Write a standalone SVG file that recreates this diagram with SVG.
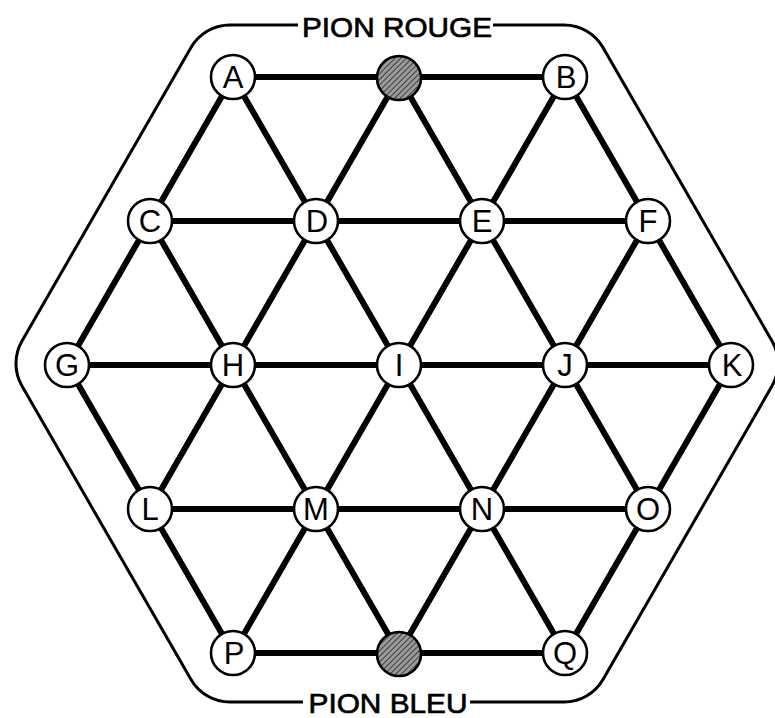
<svg xmlns="http://www.w3.org/2000/svg" width="775" height="718" viewBox="0 0 775 718">
<defs>
<pattern id="hatch" patternUnits="userSpaceOnUse" width="4" height="4" patternTransform="rotate(45)">
<rect width="4" height="4" fill="#9a9a9a"/>
<line x1="0" y1="0" x2="0" y2="4" stroke="#333" stroke-width="1.8"/>
</pattern>
</defs>
<style>
.edge{stroke:#000;stroke-width:6;stroke-linecap:round}
.node circle{fill:#fff;stroke:#000;stroke-width:2.6}
.node text{font-family:"Liberation Sans",Arial,sans-serif;font-size:31px;text-anchor:middle;fill:#000}
.pion circle{fill:url(#hatch);stroke:#000;stroke-width:2.6}
.title{font-family:"Liberation Sans",Arial,sans-serif;font-size:28px;text-anchor:middle;fill:#000;stroke:#000;stroke-width:0.7}
.board{fill:none;stroke:#000;stroke-width:3}
</style>
<rect width="775" height="718" fill="#fff"/>
<g id="outline">
<path class="board" d="M298,25 H230 A45,45 0 0 0 191,47.5 L22,341 A45,45 0 0 0 22,386 L191,679.5 A45,45 0 0 0 230,702 H303 M470,702 H564 A45,45 0 0 0 603,679.5 L772,386 A45,45 0 0 0 772,341 L603,47.5 A45,45 0 0 0 564,25 H493"/>
<text class="title" x="397" y="37" textLength="190" lengthAdjust="spacingAndGlyphs">PION ROUGE</text>
<text class="title" x="388" y="713" textLength="159" lengthAdjust="spacingAndGlyphs">PION BLEU</text>
</g>
<g id="connectors">
<line class="edge" x1="233" y1="77" x2="399" y2="77"/>
<line class="edge" x1="399" y1="77" x2="565" y2="77"/>
<line class="edge" x1="233" y1="77" x2="150" y2="221"/>
<line class="edge" x1="233" y1="77" x2="316" y2="221"/>
<line class="edge" x1="399" y1="77" x2="316" y2="221"/>
<line class="edge" x1="399" y1="77" x2="482" y2="221"/>
<line class="edge" x1="565" y1="77" x2="482" y2="221"/>
<line class="edge" x1="565" y1="77" x2="648" y2="221"/>
<line class="edge" x1="150" y1="221" x2="316" y2="221"/>
<line class="edge" x1="316" y1="221" x2="482" y2="221"/>
<line class="edge" x1="482" y1="221" x2="648" y2="221"/>
<line class="edge" x1="150" y1="221" x2="67" y2="365"/>
<line class="edge" x1="150" y1="221" x2="233" y2="365"/>
<line class="edge" x1="316" y1="221" x2="233" y2="365"/>
<line class="edge" x1="316" y1="221" x2="399" y2="365"/>
<line class="edge" x1="482" y1="221" x2="399" y2="365"/>
<line class="edge" x1="482" y1="221" x2="565" y2="365"/>
<line class="edge" x1="648" y1="221" x2="565" y2="365"/>
<line class="edge" x1="648" y1="221" x2="731" y2="365"/>
<line class="edge" x1="67" y1="365" x2="233" y2="365"/>
<line class="edge" x1="233" y1="365" x2="399" y2="365"/>
<line class="edge" x1="399" y1="365" x2="565" y2="365"/>
<line class="edge" x1="565" y1="365" x2="731" y2="365"/>
<line class="edge" x1="67" y1="365" x2="150" y2="509"/>
<line class="edge" x1="233" y1="365" x2="150" y2="509"/>
<line class="edge" x1="233" y1="365" x2="316" y2="509"/>
<line class="edge" x1="399" y1="365" x2="316" y2="509"/>
<line class="edge" x1="399" y1="365" x2="482" y2="509"/>
<line class="edge" x1="565" y1="365" x2="482" y2="509"/>
<line class="edge" x1="565" y1="365" x2="648" y2="509"/>
<line class="edge" x1="731" y1="365" x2="648" y2="509"/>
<line class="edge" x1="150" y1="509" x2="316" y2="509"/>
<line class="edge" x1="316" y1="509" x2="482" y2="509"/>
<line class="edge" x1="482" y1="509" x2="648" y2="509"/>
<line class="edge" x1="150" y1="509" x2="233" y2="653"/>
<line class="edge" x1="316" y1="509" x2="233" y2="653"/>
<line class="edge" x1="316" y1="509" x2="399" y2="653"/>
<line class="edge" x1="482" y1="509" x2="399" y2="653"/>
<line class="edge" x1="482" y1="509" x2="565" y2="653"/>
<line class="edge" x1="648" y1="509" x2="565" y2="653"/>
<line class="edge" x1="233" y1="653" x2="399" y2="653"/>
<line class="edge" x1="399" y1="653" x2="565" y2="653"/>
</g>
<g id="A" class="node"><circle cx="233" cy="77" r="22"/><text x="233" y="88">A</text></g>
<g id="pion-rouge" class="pion"><circle cx="399" cy="78" r="22"/></g>
<g id="B" class="node"><circle cx="565" cy="77" r="22"/><text x="566" y="88">B</text></g>
<g id="C" class="node"><circle cx="150" cy="221" r="22"/><text x="150" y="232">C</text></g>
<g id="D" class="node"><circle cx="316" cy="221" r="22"/><text x="317" y="232">D</text></g>
<g id="E" class="node"><circle cx="482" cy="221" r="22"/><text x="482" y="232">E</text></g>
<g id="F" class="node"><circle cx="648" cy="221" r="22"/><text x="648" y="232">F</text></g>
<g id="G" class="node"><circle cx="67" cy="365" r="22"/><text x="67" y="376">G</text></g>
<g id="H" class="node"><circle cx="233" cy="365" r="22"/><text x="233" y="376">H</text></g>
<g id="I" class="node"><circle cx="399" cy="365" r="22"/><text x="399" y="376">I</text></g>
<g id="J" class="node"><circle cx="565" cy="365" r="22"/><text x="565" y="376">J</text></g>
<g id="K" class="node"><circle cx="731" cy="365" r="22"/><text x="732" y="376">K</text></g>
<g id="L" class="node"><circle cx="150" cy="509" r="22"/><text x="150" y="520">L</text></g>
<g id="M" class="node"><circle cx="316" cy="509" r="22"/><text x="316" y="520">M</text></g>
<g id="N" class="node"><circle cx="482" cy="509" r="22"/><text x="482" y="520">N</text></g>
<g id="O" class="node"><circle cx="648" cy="509" r="22"/><text x="648" y="520">O</text></g>
<g id="P" class="node"><circle cx="233" cy="653" r="22"/><text x="234" y="664">P</text></g>
<g id="pion-bleu" class="pion"><circle cx="399" cy="654" r="22"/></g>
<g id="Q" class="node"><circle cx="565" cy="653" r="22"/><text x="565" y="664">Q</text></g>
</svg>
